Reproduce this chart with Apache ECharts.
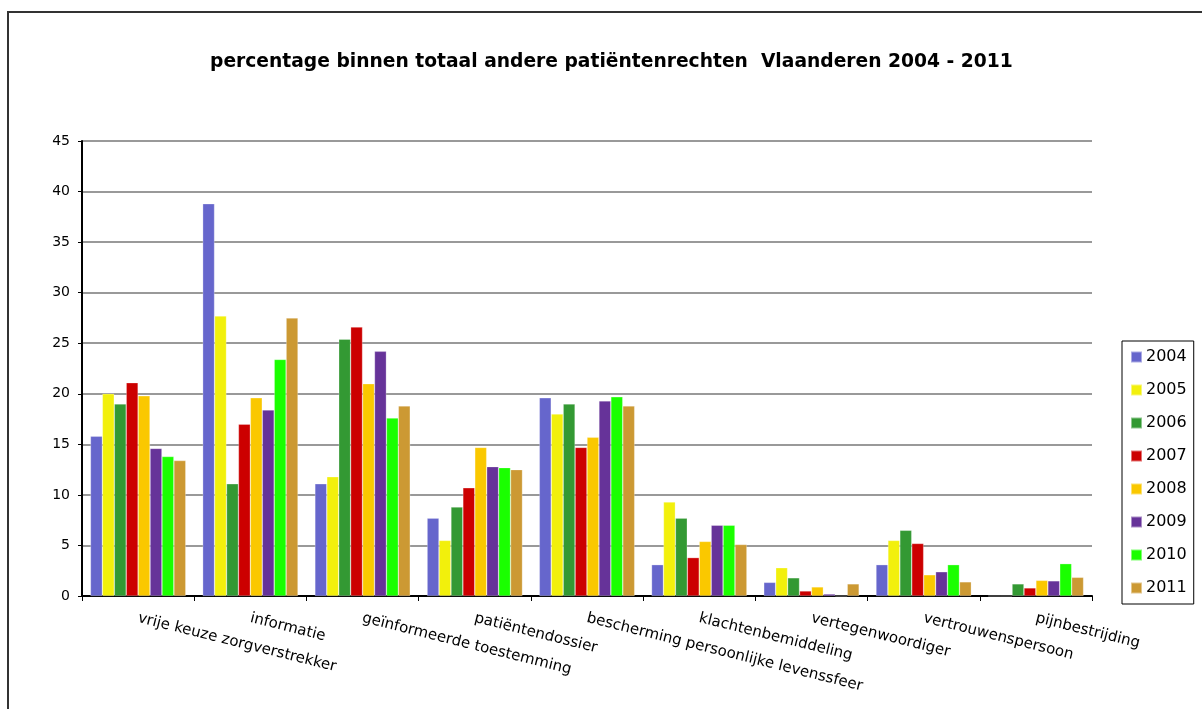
<!DOCTYPE html>
<html>
<head>
<meta charset="utf-8">
<script src="https://cdn.jsdelivr.net/npm/echarts@6/dist/echarts.min.js"></script>
<style>
  html, body { margin: 0; padding: 0; background: #fff; }
  #chart { width: 1202px; height: 709px; }
</style>
</head>
<body>
<div id="chart"></div>
<script>
// categorieën (x-as)
var categories = [
  'vrije keuze zorgverstrekker',
  'informatie',
  'geïnformeerde toestemming',
  'patiëntendossier',
  'bescherming persoonlijke levenssfeer',
  'klachtenbemiddeling',
  'vertegenwoordiger',
  'vertrouwenspersoon',
  'pijnbestrijding'
]

var years = ['2004', '2005', '2006', '2007', '2008', '2009', '2010', '2011']
var colors = ['#6666CC', '#F2F00C', '#339933', '#CC0000', '#FAC800', '#663399', '#1AFF00', '#CC9933']

// percentages per jaar, in volgorde van categories
var v2004 = [15.8, 38.8, 11.1, 7.7, 19.6, 3.1, 1.35, 3.1, 0]
var v2005 = [20.0, 27.7, 11.8, 5.5, 18.0, 9.3, 2.8, 5.5, 0]
var v2006 = [19.0, 11.1, 25.4, 8.8, 19.0, 7.7, 1.8, 6.5, 1.2]
var v2007 = [21.1, 17.0, 26.6, 10.7, 14.7, 3.8, 0.5, 5.2, 0.8]
var v2008 = [19.8, 19.6, 21.0, 14.7, 15.7, 5.4, 0.9, 2.1, 1.55]
var v2009 = [14.6, 18.4, 24.2, 12.8, 19.3, 7.0, 0.2, 2.4, 1.5]
var v2010 = [13.8, 23.4, 17.6, 12.7, 19.7, 7.0, 0, 3.1, 3.2]
var v2011 = [13.4, 27.5, 18.8, 12.5, 18.8, 5.1, 1.2, 1.4, 1.85]

var values = [v2004, v2005, v2006, v2007, v2008, v2009, v2010, v2011]

var yTicks = { min: 0, max: 45, interval: 5 }

var FONT = 'DejaVu Sans'

var series = years.map(function (y, i) {
  return {
    name: y,
    type: 'bar',
    data: values[i],
    barGap: '0%',
    barCategoryGap: '15%',
    itemStyle: { color: colors[i], borderColor: 'rgba(255,255,255,0.45)', borderWidth: 0.6 },
    emphasis: { disabled: true }
  }
})

var myChart = echarts.init(document.getElementById('chart'), null, { renderer: 'canvas' })
myChart.setOption({
  animation: false,
  backgroundColor: '#fff',
  title: {
    text: 'percentage binnen totaal andere patiëntenrechten  Vlaanderen 2004 - 2011',
    left: 205,
    top: 48,
    textStyle: { fontFamily: FONT, fontWeight: 'bold', fontSize: 18.7, color: '#000' }
  },
  legend: {
    orient: 'vertical',
    left: 1122,
    top: 341,
    width: 70,
    padding: [8, 7, 8, 8],
    itemGap: 17,
    itemWidth: 11,
    itemHeight: 11,
    icon: 'rect',
    borderColor: '#000',
    borderWidth: 1,
    textStyle: { fontFamily: FONT, fontSize: 16, color: '#000', padding: [0, 0, 0, -1] },
    data: years
  },
  grid: { left: 82, right: 110, top: 141, bottom: 113, containLabel: false },
  xAxis: {
    type: 'category',
    data: categories,
    axisLine: { lineStyle: { color: '#000', width: 2 } },
    axisTick: { show: true, length: 5, lineStyle: { color: '#000' } },
    axisLabel: {
      interval: 0,
      rotate: -14,
      margin: 22,
      fontFamily: FONT,
      fontSize: 15,
      color: '#000'
    }
  },
  yAxis: {
    type: 'value',
    min: yTicks.min,
    max: yTicks.max,
    interval: yTicks.interval,
    axisLine: { show: true, lineStyle: { color: '#000', width: 2 } },
    axisTick: { show: true, length: 4, lineStyle: { color: '#000' } },
    axisLabel: { fontFamily: FONT, fontSize: 14, color: '#000', margin: 12 },
    splitLine: { lineStyle: { color: '#777', width: 1.5 } }
  },
  graphic: [
    {
      type: 'polyline',
      silent: true,
      shape: { points: [[8, 709], [8, 12], [1202, 12]] },
      style: { stroke: '#333', lineWidth: 2, fill: null }
    }
  ],
  series: series
})

window.addEventListener('resize', function () {
  myChart && myChart.resize()
})
</script>
</body>
</html>
